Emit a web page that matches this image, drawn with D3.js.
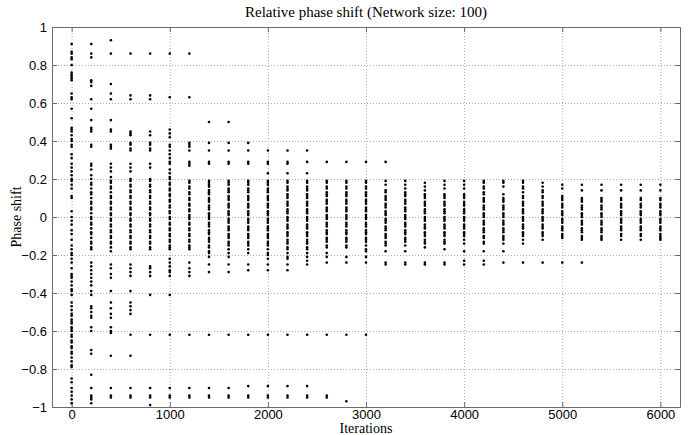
<!DOCTYPE html>
<html>
<head>
<meta charset="utf-8">
<script src="https://cdn.jsdelivr.net/npm/d3@7"></script>
<style>
  body { margin: 0; background: #fff; }
  svg { display: block; }
</style>
</head>
<body>
<div id="chart"></div>
<script>
const iterations = [0,200,400,600,800,1000,1200,1400,1600,1800,2000,2200,2400,2600,2800,3000,
                    3200,3400,3600,3800,4000,4200,4400,4600,4800,5000,5200,5400,5600,5800,6000];

const shift0 = [0.91,0.87,0.86,0.84,0.83,0.80,0.76,0.75,0.74,0.73,0.72,0.65,0.63,0.62,0.57,0.52,0.47,0.46,0.45,0.43,0.41,0.40,0.38,0.37,0.33,0.31,0.28,0.26,0.24,0.22,0.20,0.19,0.17,0.15,0.11,0.10,0.03,0.00,-0.02,-0.04,-0.07,-0.09,-0.12,-0.15,-0.17,-0.19,-0.20,-0.22,-0.24,-0.27,-0.30,-0.31,-0.32,-0.34,-0.36,-0.38,-0.39,-0.41,-0.45,-0.47,-0.49,-0.51,-0.52,-0.54,-0.55,-0.56,-0.58,-0.59,-0.60,-0.62,-0.63,-0.65,-0.66,-0.68,-0.69,-0.71,-0.72,-0.74,-0.76,-0.78,-0.79,-0.85,-0.87,-0.90,-0.92,-0.94,-0.96,-0.98];
const shift200 = [0.91,0.86,0.84,0.72,0.71,0.69,0.62,0.57,0.51,0.47,0.46,0.45,0.38,0.37,0.28,0.27,0.25,0.22,0.20,0.18,0.17,0.15,0.13,0.12,0.10,0.08,0.07,0.05,0.04,0.02,0.00,-0.01,-0.03,-0.04,-0.06,-0.08,-0.09,-0.11,-0.13,-0.14,-0.16,-0.17,-0.24,-0.26,-0.28,-0.30,-0.32,-0.34,-0.36,-0.39,-0.41,-0.47,-0.48,-0.50,-0.52,-0.53,-0.58,-0.60,-0.70,-0.72,-0.83,-0.90,-0.94,-0.95,-0.96,-0.98];
const shift400 = [0.93,0.86,0.70,0.65,0.62,0.51,0.46,0.45,0.38,0.37,0.36,0.28,0.26,0.24,0.21,0.19,0.18,0.16,0.15,0.13,0.11,0.10,0.08,0.07,0.05,0.04,0.02,0.01,-0.01,-0.02,-0.04,-0.05,-0.07,-0.08,-0.10,-0.11,-0.13,-0.14,-0.16,-0.18,-0.25,-0.27,-0.30,-0.32,-0.39,-0.45,-0.48,-0.51,-0.53,-0.58,-0.60,-0.61,-0.73,-0.90,-0.94,-0.95];
const shift600 = [0.86,0.64,0.62,0.45,0.44,0.43,0.39,0.38,0.36,0.35,0.28,0.26,0.24,0.20,0.19,0.17,0.16,0.14,0.13,0.11,0.10,0.08,0.07,0.05,0.04,0.02,0.01,-0.01,-0.02,-0.04,-0.05,-0.07,-0.08,-0.10,-0.11,-0.13,-0.14,-0.16,-0.17,-0.25,-0.27,-0.29,-0.31,-0.39,-0.45,-0.47,-0.49,-0.51,-0.62,-0.73,-0.90,-0.94,-0.95];
const shift800 = [0.86,0.64,0.62,0.45,0.43,0.39,0.38,0.36,0.35,0.28,0.26,0.20,0.19,0.17,0.16,0.14,0.13,0.11,0.10,0.08,0.07,0.05,0.04,0.02,0.01,-0.01,-0.02,-0.04,-0.05,-0.07,-0.08,-0.10,-0.11,-0.13,-0.14,-0.16,-0.17,-0.26,-0.27,-0.29,-0.31,-0.41,-0.62,-0.90,-0.94,-0.95,-0.99];
const shift1000 = [0.86,0.63,0.46,0.44,0.42,0.38,0.37,0.35,0.33,0.31,0.29,0.28,0.25,0.23,0.21,0.20,0.18,0.17,0.15,0.14,0.12,0.11,0.09,0.08,0.06,0.05,0.03,0.02,0.00,-0.01,-0.03,-0.04,-0.06,-0.07,-0.09,-0.10,-0.12,-0.13,-0.15,-0.16,-0.17,-0.22,-0.24,-0.26,-0.28,-0.29,-0.31,-0.41,-0.62,-0.90,-0.94,-0.95];
const shift1200 = [0.86,0.63,0.39,0.38,0.37,0.35,0.29,0.28,0.27,0.19,0.18,0.16,0.15,0.13,0.12,0.10,0.09,0.07,0.06,0.04,0.03,0.01,0.00,-0.01,-0.03,-0.04,-0.06,-0.07,-0.09,-0.10,-0.12,-0.13,-0.15,-0.16,-0.17,-0.24,-0.27,-0.29,-0.31,-0.62,-0.90,-0.94,-0.95];
const shift1400 = [0.50,0.39,0.35,0.29,0.28,0.19,0.18,0.17,0.16,0.14,0.13,0.12,0.10,0.09,0.08,0.06,0.05,0.04,0.02,0.01,0.00,-0.01,-0.03,-0.04,-0.05,-0.07,-0.08,-0.09,-0.11,-0.12,-0.13,-0.15,-0.16,-0.18,-0.19,-0.21,-0.25,-0.29,-0.62,-0.90,-0.94,-0.95];
const shift1600 = [0.50,0.39,0.35,0.29,0.28,0.19,0.18,0.17,0.15,0.14,0.13,0.11,0.10,0.09,0.07,0.06,0.05,0.03,0.02,0.01,-0.01,-0.02,-0.03,-0.05,-0.06,-0.07,-0.09,-0.10,-0.11,-0.13,-0.14,-0.15,-0.17,-0.19,-0.21,-0.25,-0.29,-0.62,-0.90,-0.94,-0.95];
const shift1800 = [0.39,0.35,0.29,0.28,0.19,0.18,0.17,0.15,0.14,0.13,0.11,0.10,0.09,0.07,0.06,0.05,0.03,0.02,0.01,-0.01,-0.02,-0.03,-0.05,-0.06,-0.07,-0.09,-0.10,-0.11,-0.13,-0.14,-0.15,-0.17,-0.19,-0.25,-0.28,-0.62,-0.89,-0.94,-0.95];
const shift2000 = [0.35,0.29,0.28,0.23,0.19,0.18,0.17,0.15,0.14,0.13,0.11,0.10,0.09,0.07,0.06,0.05,0.03,0.02,0.01,-0.01,-0.02,-0.03,-0.05,-0.06,-0.07,-0.09,-0.10,-0.11,-0.13,-0.14,-0.15,-0.17,-0.19,-0.20,-0.22,-0.25,-0.28,-0.62,-0.89,-0.94,-0.95];
const shift2200 = [0.35,0.29,0.28,0.23,0.19,0.18,0.16,0.15,0.14,0.12,0.11,0.10,0.08,0.07,0.06,0.04,0.03,0.02,0.00,-0.01,-0.02,-0.04,-0.05,-0.06,-0.08,-0.09,-0.10,-0.12,-0.13,-0.14,-0.16,-0.17,-0.19,-0.21,-0.22,-0.25,-0.28,-0.62,-0.89,-0.94,-0.95];
const shift2400 = [0.35,0.29,0.23,0.19,0.18,0.16,0.15,0.14,0.12,0.11,0.10,0.08,0.07,0.06,0.04,0.03,0.02,0.00,-0.01,-0.02,-0.04,-0.05,-0.06,-0.08,-0.09,-0.10,-0.12,-0.13,-0.14,-0.16,-0.17,-0.19,-0.21,-0.23,-0.25,-0.62,-0.89,-0.94,-0.95];
const shift2600 = [0.29,0.19,0.18,0.16,0.15,0.13,0.12,0.11,0.09,0.08,0.07,0.05,0.04,0.03,0.01,0.00,-0.01,-0.03,-0.04,-0.05,-0.07,-0.08,-0.09,-0.11,-0.12,-0.13,-0.15,-0.16,-0.19,-0.21,-0.24,-0.62,-0.94,-0.95];
const shift2800 = [0.29,0.19,0.18,0.16,0.15,0.13,0.12,0.11,0.09,0.08,0.07,0.05,0.04,0.03,0.01,0.00,-0.01,-0.03,-0.04,-0.05,-0.07,-0.08,-0.09,-0.11,-0.12,-0.13,-0.15,-0.16,-0.21,-0.24,-0.62,-0.97];
const shift3000 = [0.29,0.19,0.18,0.16,0.15,0.13,0.12,0.11,0.09,0.08,0.07,0.05,0.04,0.03,0.01,0.00,-0.01,-0.03,-0.04,-0.05,-0.07,-0.08,-0.09,-0.11,-0.12,-0.13,-0.15,-0.17,-0.18,-0.21,-0.24,-0.62];
const shift3200 = [0.29,0.19,0.17,0.14,0.13,0.11,0.10,0.09,0.07,0.06,0.05,0.03,0.02,0.01,-0.01,-0.02,-0.03,-0.05,-0.06,-0.07,-0.09,-0.10,-0.11,-0.13,-0.14,-0.15,-0.18,-0.24,-0.25];
const shift3400 = [0.19,0.17,0.15,0.13,0.12,0.11,0.09,0.08,0.07,0.05,0.04,0.03,0.01,0.00,-0.01,-0.03,-0.04,-0.05,-0.07,-0.08,-0.09,-0.11,-0.12,-0.13,-0.15,-0.18,-0.24,-0.25];
const shift3600 = [0.18,0.16,0.14,0.12,0.11,0.10,0.08,0.07,0.06,0.04,0.03,0.02,0.00,-0.01,-0.02,-0.04,-0.05,-0.06,-0.08,-0.09,-0.10,-0.12,-0.13,-0.14,-0.16,-0.24,-0.25];
const shift3800 = [0.19,0.17,0.15,0.12,0.11,0.10,0.08,0.07,0.06,0.04,0.03,0.02,0.00,-0.01,-0.02,-0.04,-0.05,-0.06,-0.08,-0.09,-0.10,-0.12,-0.13,-0.14,-0.17,-0.24,-0.25];
const shift4000 = [0.19,0.17,0.15,0.12,0.11,0.10,0.08,0.07,0.06,0.04,0.03,0.02,0.00,-0.01,-0.02,-0.04,-0.05,-0.06,-0.08,-0.09,-0.10,-0.12,-0.14,-0.18,-0.23,-0.25];
const shift4200 = [0.19,0.18,0.16,0.15,0.13,0.12,0.10,0.09,0.08,0.06,0.05,0.04,0.02,0.01,0.00,-0.02,-0.03,-0.04,-0.06,-0.07,-0.08,-0.10,-0.11,-0.13,-0.14,-0.18,-0.23,-0.25];
const shift4400 = [0.19,0.18,0.16,0.12,0.10,0.09,0.08,0.06,0.05,0.04,0.02,0.01,0.00,-0.02,-0.03,-0.04,-0.06,-0.07,-0.08,-0.10,-0.11,-0.12,-0.14,-0.18,-0.24];
const shift4600 = [0.19,0.18,0.16,0.15,0.13,0.11,0.10,0.08,0.07,0.06,0.04,0.03,0.02,0.00,-0.01,-0.02,-0.04,-0.05,-0.06,-0.08,-0.09,-0.10,-0.12,-0.14,-0.24];
const shift4800 = [0.18,0.16,0.14,0.13,0.11,0.10,0.08,0.07,0.06,0.04,0.03,0.02,0.00,-0.01,-0.02,-0.04,-0.05,-0.06,-0.08,-0.09,-0.10,-0.12,-0.24];
const shift5000 = [0.17,0.15,0.11,0.10,0.09,0.07,0.06,0.05,0.03,0.02,0.01,-0.01,-0.02,-0.03,-0.05,-0.06,-0.07,-0.09,-0.10,-0.11,-0.24];
const shift5200 = [0.17,0.14,0.10,0.09,0.08,0.06,0.05,0.04,0.02,0.01,0.00,-0.02,-0.03,-0.04,-0.06,-0.07,-0.08,-0.10,-0.11,-0.12,-0.24];
const shift5400 = [0.17,0.14,0.10,0.09,0.08,0.06,0.05,0.04,0.02,0.01,0.00,-0.02,-0.03,-0.04,-0.06,-0.07,-0.08,-0.10,-0.11,-0.12];
const shift5600 = [0.17,0.14,0.10,0.09,0.07,0.06,0.05,0.03,0.02,0.01,-0.01,-0.02,-0.03,-0.05,-0.06,-0.07,-0.09,-0.10,-0.12];
const shift5800 = [0.17,0.14,0.10,0.09,0.07,0.06,0.05,0.03,0.02,0.01,-0.01,-0.02,-0.03,-0.05,-0.06,-0.07,-0.09,-0.10,-0.12];
const shift6000 = [0.17,0.14,0.10,0.09,0.07,0.06,0.05,0.03,0.02,0.01,-0.01,-0.02,-0.03,-0.05,-0.06,-0.07,-0.09,-0.10,-0.11,-0.12];

const shifts = [shift0, shift200, shift400, shift600, shift800, shift1000, shift1200, shift1400,
                shift1600, shift1800, shift2000, shift2200, shift2400, shift2600, shift2800, shift3000,
                shift3200, shift3400, shift3600, shift3800, shift4000, shift4200, shift4400, shift4600,
                shift4800, shift5000, shift5200, shift5400, shift5600, shift5800, shift6000];

const xTicks = [0, 1000, 2000, 3000, 4000, 5000, 6000];
const yTicks = [-1, -0.8, -0.6, -0.4, -0.2, 0, 0.2, 0.4, 0.6, 0.8, 1];

drawPhaseChart();

function drawPhaseChart() {
    const width = 694;
    const height = 435;
    const margin = {top: 27, right: 14, bottom: 28, left: 52};

    // flatten the columns into points
    const points = [];
    iterations.forEach((it, i) => {
        shifts[i].forEach(v => points.push({it: it, v: v}));
    });

    const svg = d3.select('#chart')
        .append('svg')
            .attr('width', width)
            .attr('height', height);

    const x = d3.scaleLinear()
        .domain([-200, 6200])
        .range([margin.left, width - margin.right]);

    const y = d3.scaleLinear()
        .domain([-1, 1])
        .range([height - margin.bottom, margin.top]);

    const gridColor = '#a8a8a8';
    const boxColor = '#6a6a6a';

    // grid
    svg.append('g')
        .selectAll('line')
        .data(xTicks)
        .join('line')
            .attr('x1', d => x(d) + 0.5)
            .attr('x2', d => x(d) + 0.5)
            .attr('y1', margin.top)
            .attr('y2', height - margin.bottom)
            .attr('stroke', gridColor)
            .attr('stroke-dasharray', '1,2');

    svg.append('g')
        .selectAll('line')
        .data(yTicks.filter(d => d > -1 && d < 1))
        .join('line')
            .attr('x1', margin.left)
            .attr('x2', width - margin.right)
            .attr('y1', d => Math.round(y(d)) + 0.5)
            .attr('y2', d => Math.round(y(d)) + 0.5)
            .attr('stroke', gridColor)
            .attr('stroke-dasharray', '1,2');

    // axes with inward ticks
    const fontSans = 'Liberation Sans, Arial, sans-serif';

    const bottomAxis = svg.append('g')
        .attr('transform', `translate(0, ${height - margin.bottom})`)
        .call(d3.axisBottom(x).tickValues(xTicks).tickSizeInner(-5).tickSizeOuter(0).tickPadding(3).tickFormat(d3.format('d')));
    const topAxis = svg.append('g')
        .attr('transform', `translate(0, ${margin.top})`)
        .call(d3.axisTop(x).tickValues(xTicks).tickSizeInner(-5).tickSizeOuter(0).tickFormat(''));
    const leftAxis = svg.append('g')
        .attr('transform', `translate(${margin.left}, 0)`)
        .call(d3.axisLeft(y).tickValues(yTicks).tickSizeInner(-5).tickSizeOuter(0).tickPadding(5).tickFormat(d3.format('~g')));
    const rightAxis = svg.append('g')
        .attr('transform', `translate(${width - margin.right}, 0)`)
        .call(d3.axisRight(y).tickValues(yTicks).tickSizeInner(-5).tickSizeOuter(0).tickFormat(''));

    [bottomAxis, topAxis, leftAxis, rightAxis].forEach(a => {
        a.select('.domain').attr('stroke', boxColor);
        a.selectAll('.tick line').attr('stroke', boxColor);
        a.selectAll('text')
            .attr('fill', '#000')
            .style('font-family', fontSans)
            .style('font-size', '13px');
    });

    // points
    svg.append('g')
        .selectAll('circle')
        .data(points)
        .join('circle')
            .attr('cx', d => x(d.it))
            .attr('cy', d => y(d.v))
            .attr('r', 1.3)
            .attr('fill', '#000');

    const fontSerif = 'Liberation Serif, Times New Roman, serif';
    const plotMid = (margin.left + width - margin.right) / 2;

    svg.append('text')
        .attr('x', plotMid)
        .attr('y', 17)
        .attr('text-anchor', 'middle')
        .style('font-family', fontSerif)
        .style('font-size', '15px')
        .text('Relative phase shift (Network size: 100)');

    svg.append('text')
        .attr('x', plotMid)
        .attr('y', 433)
        .attr('text-anchor', 'middle')
        .style('font-family', fontSerif)
        .style('font-size', '14px')
        .text('Iterations');

    svg.append('text')
        .attr('transform', `translate(21, ${y(0)}) rotate(-90)`)
        .attr('text-anchor', 'middle')
        .style('font-family', fontSerif)
        .style('font-size', '14px')
        .text('Phase shift');
}
</script>
</body>
</html>
